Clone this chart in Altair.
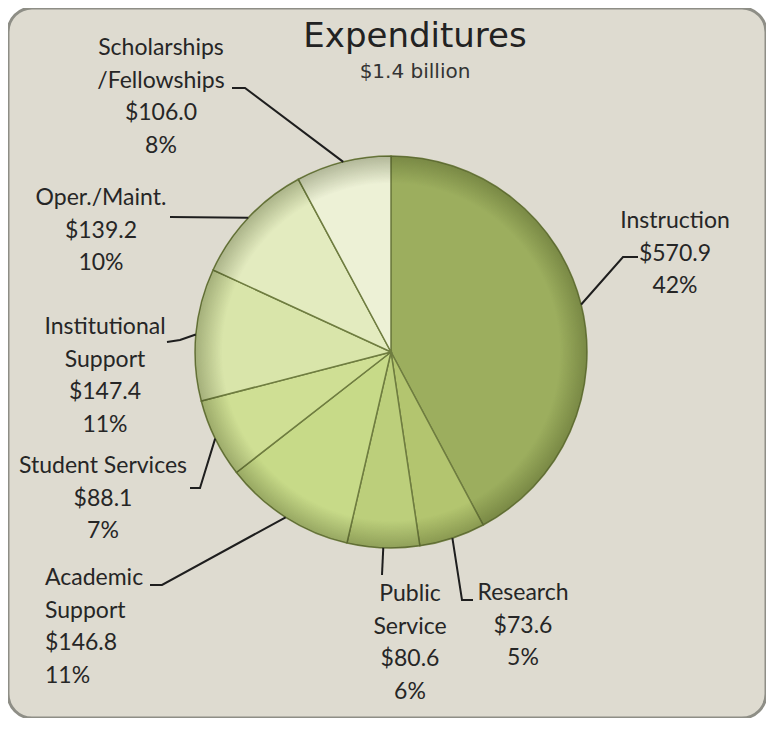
import math
import pandas as pd
import altair as alt

# ---------------- data ----------------
categories = ["Instruction", "Research", "Public Service", "Academic Support",
              "Student Services", "Institutional Support", "Oper./Maint.",
              "Scholarships/Fellowships"]
label_names = ["Instruction", "Research", "Public\nService", "Academic\nSupport",
               "Student Services", "Institutional\nSupport", "Oper./Maint.",
               "Scholarships\n/Fellowships"]
values = [570.9, 73.6, 80.6, 146.8, 88.1, 147.4, 139.2, 106.0]
title_text = "Expenditures"
subtitle_text = "$1.4 billion"

# ---------------- styles / layout ----------------
slice_colors = ["#9cae5e", "#b3c56f", "#bccf7b", "#c7da88", "#cfdf94",
                "#d9e5aa", "#e3ebbf", "#edf1d6"]
BG = "#dedbd0"
W, H = 758, 710
OFF = 8  # page margin; layout values below are in page pixels
CX, CY, R = 391, 352, 196
# elbow point and end of the short horizontal tick of each leader line
elbows = [(623, 257), (462, 600), (382, 575), (162, 585),
          (200, 488), (180, 340), (170, 217), (245, 88)]
ticks = [(638, 257), (473, 600), (382, 575), (150, 585),
         (190, 488), (167, 342), (170, 217), (232, 88)]
# label anchor (x, centre of first text line) and alignment
anchors = [(675, 220), (523, 592), (410, 593), (45, 577),
           (103, 465), (105, 326), (101, 197), (161, 47)]
aligns = ["center", "center", "center", "left",
          "center", "center", "center", "center"]
FONT = "Lato"
FS = 23
LH = 32.5

total = sum(values)
rows, line_rows, text_rows = [], [], []
cum = 0.0
for i, (cat, name, v) in enumerate(zip(categories, label_names, values)):
    mid = (cum + v / 2) / total * 2 * math.pi
    cum += v
    pct = round(v / total * 100)
    rows.append({"cat": cat, "value": v, "idx": i})
    sx = CX + R * math.sin(mid)
    sy = CY - R * math.cos(mid)
    pts = [(sx, sy), elbows[i], ticks[i]]
    for k, (px, py) in enumerate(pts):
        line_rows.append({"cat": cat, "k": k, "x": px, "y": py})
    ax, ay = anchors[i]
    text_rows.append({"cat": cat, "x": ax, "y": ay + 8,
                      "label": f"{name}\n${v:.1f}\n{pct}%", "align": aligns[i]})

df = pd.DataFrame(rows)
lines = pd.DataFrame(line_rows)
texts = pd.DataFrame(text_rows)

xs = alt.Scale(domain=[OFF, OFF + W], range=[0, W], nice=False, zero=False)
ys = alt.Scale(domain=[OFF, OFF + H], range=[0, H], nice=False, zero=False)

pie = alt.Chart(df).mark_arc(outerRadius=R, stroke="#6f7d40", strokeWidth=1.5).encode(
    theta=alt.Theta("value:Q", stack=True),
    order=alt.Order("idx:Q"),
    color=alt.Color("cat:N", scale=alt.Scale(domain=categories, range=slice_colors), legend=None),
    x=alt.value(CX - OFF),
    y=alt.value(CY - OFF),
)

one = pd.DataFrame({"a": [0]})
shade = alt.Chart(one).mark_arc(
    outerRadius=R,
    fill={"gradient": "radial",
          "stops": [{"offset": 0.0, "color": "rgba(255,255,255,0.0)"},
                    {"offset": 0.86, "color": "rgba(40,50,10,0.0)"},
                    {"offset": 1.0, "color": "rgba(40,50,10,0.30)"}],
          "x1": 0.5, "y1": 0.5, "x2": 0.5, "y2": 0.5, "r1": 0, "r2": 0.5},
).encode(theta=alt.value(0), theta2=alt.value(2 * math.pi),
         x=alt.value(CX - OFF), y=alt.value(CY - OFF))

leaders = alt.Chart(lines).mark_line(color="#1e1e1e", strokeWidth=2).encode(
    x=alt.X("x:Q", scale=xs, axis=None),
    y=alt.Y("y:Q", scale=ys, axis=None),
    detail="cat:N",
    order="k:Q",
)

def label_layer(al):
    return alt.Chart(texts).transform_filter(alt.datum.align == al).mark_text(
        font=FONT, fontSize=FS, lineHeight=LH, lineBreak="\n", align=al,
        baseline="alphabetic", color="#262626",
    ).encode(
        x=alt.X("x:Q", scale=xs, axis=None),
        y=alt.Y("y:Q", scale=ys, axis=None),
        text="label:N",
    )

title = alt.Chart(one).mark_text(
    font="DejaVu Sans", fontSize=34, color="#222222", align="center", baseline="alphabetic"
).encode(text=alt.value(title_text), x=alt.value(415 - OFF), y=alt.value(47 - OFF))

subtitle = alt.Chart(one).mark_text(
    font="DejaVu Sans", fontSize=20, color="#333333", align="center", baseline="middle"
).encode(text=alt.value(subtitle_text), x=alt.value(415 - OFF), y=alt.value(72 - OFF))

chart = alt.layer(
    pie, shade, leaders, label_layer("center"), label_layer("left"), title, subtitle
).properties(
    width=W, height=H, padding=0, autosize=alt.AutoSizeParams(type="none"),
    background="white",
).configure_view(
    fill=BG, stroke="#8e8e86", strokeWidth=3, cornerRadius=24,
)

chart.save("out.html", embed_options={"renderer": "svg", "actions": False})
